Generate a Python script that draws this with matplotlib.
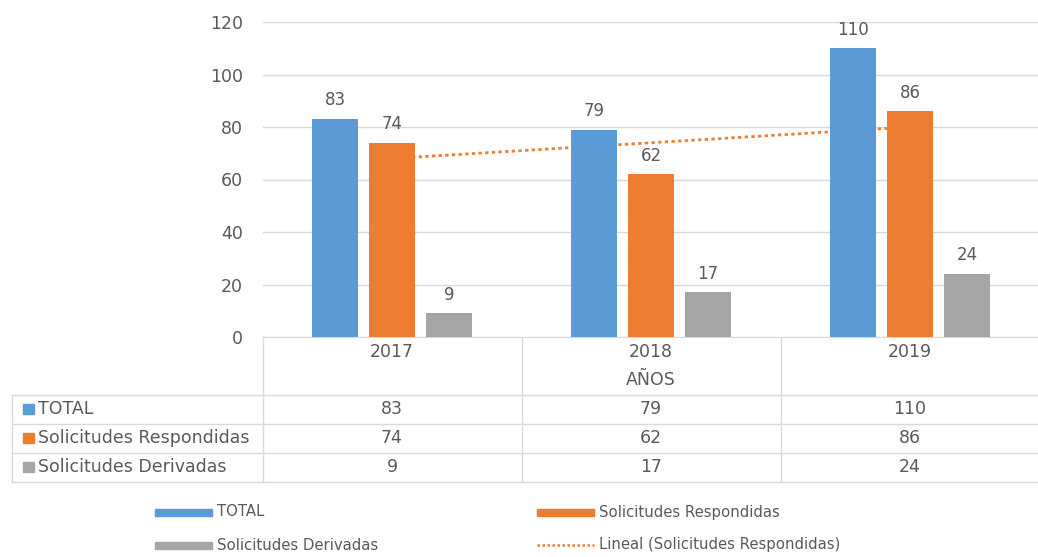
import matplotlib.pyplot as plt
import matplotlib.transforms as mtransforms
from matplotlib.lines import Line2D
from matplotlib.patches import Rectangle
import numpy as np

plt.rcParams['font.family'] = ['DejaVu Sans']

# data
years = ['2017', '2018', '2019']
total = [83, 79, 110]
respondidas = [74, 62, 86]
derivadas = [9, 17, 24]
series_names = ['TOTAL', 'Solicitudes Respondidas', 'Solicitudes Derivadas']
trend_name = 'Lineal (Solicitudes Respondidas)'
x_label = 'AÑOS'

BLUE = '#5B9BD5'
ORANGE = '#ED7D31'
GRAY = '#A5A5A5'
TXT = '#595959'
GRID = '#D9D9D9'
FS = 12.5

W, H = 1038, 557
fig = plt.figure(figsize=(W / 100, H / 100), dpi=100)

def fx(px):
    return px / W

def fy(py):
    return 1 - py / H

# plot area: y=0 at 337px, y=120 at 22px
ax = fig.add_axes([fx(262.5), fy(337), fx(777), (337 - 22) / H])

x = np.arange(len(years))
bw = 0.175
off = 0.22
series = [total, respondidas, derivadas]
colors = [BLUE, ORANGE, GRAY]
for i, (vals, c) in enumerate(zip(series, colors)):
    bars = ax.bar(x + (i - 1) * off, vals, width=bw, color=c, zorder=3)
    for b, v in zip(bars, vals):
        ax.annotate(str(v), (b.get_x() + b.get_width() / 2, v),
                    xytext=(0, 7), textcoords='offset points',
                    ha='center', va='bottom', fontsize=FS - 0.5, color=TXT)

# linear trend of the answered requests
coef = np.polyfit(x, respondidas, 1)
ax.plot(x, np.polyval(coef, x), color=ORANGE, linestyle=(0, (1.2, 1.2)),
        linewidth=2, zorder=2)

ax.set_xlim(-0.5, 2.5)
ax.set_ylim(0, 120)
ax.set_yticks(range(0, 121, 20))
ax.yaxis.grid(True, color=GRID, linewidth=1, zorder=0)
ax.set_axisbelow(True)
ax.tick_params(axis='y', length=0, pad=14, labelsize=FS, labelcolor=TXT)
ax.set_xticks([])
for s in ['top', 'right', 'left']:
    ax.spines[s].set_visible(False)
ax.spines['bottom'].set_color(GRID)

# data table under the axis
tr = mtransforms.blended_transform_factory(ax.transData, fig.transFigure)
for bx in [-0.5, 0.5, 1.5]:
    fig.add_artist(Line2D([bx, bx], [fy(337), fy(482)], color=GRID,
                          linewidth=1, transform=tr))
fig.add_artist(Line2D([fx(12), fx(12)], [fy(395), fy(482)], color=GRID,
                      linewidth=1, transform=fig.transFigure))
for ly in [395, 424, 453, 482]:
    fig.add_artist(Line2D([fx(12), 1], [fy(ly), fy(ly)], color=GRID,
                          linewidth=1, transform=fig.transFigure))

for xi, yr in zip(x, years):
    fig.text(xi, fy(352), yr, transform=tr, ha='center', va='center',
             fontsize=FS, color=TXT)
fig.text(1, fy(380), x_label, transform=tr, ha='center', va='center',
         fontsize=FS, color=TXT)

row_y = [409, 438, 467]
for name, vals, c, ry in zip(series_names, series, colors, row_y):
    fig.add_artist(Rectangle((fx(23), fy(ry + 5)), fx(11), 10 / H,
                             color=c, transform=fig.transFigure))
    fig.text(fx(38), fy(ry), name, ha='left', va='center', fontsize=FS,
             color=TXT)
    for xi, v in zip(x, vals):
        fig.text(xi, fy(ry), str(v), transform=tr, ha='center', va='center',
                 fontsize=FS, color=TXT)

# legend
legend_items = [
    (155, 512, 'bar', BLUE, series_names[0]),
    (537, 512, 'bar', ORANGE, series_names[1]),
    (155, 545, 'bar', GRAY, series_names[2]),
    (537, 545, 'line', ORANGE, trend_name),
]
for lx, ly, kind, c, label in legend_items:
    if kind == 'bar':
        fig.add_artist(Rectangle((fx(lx), fy(ly + 3.5)), fx(57), 7 / H,
                                 color=c, transform=fig.transFigure))
    else:
        fig.add_artist(Line2D([fx(lx), fx(lx + 57)], [fy(ly), fy(ly)],
                              color=c, linestyle=(0, (1, 1)), linewidth=1.8,
                              transform=fig.transFigure))
    fig.text(fx(lx + 62), fy(ly), label, ha='left', va='center',
             fontsize=10.7, color=TXT)

fig.savefig('out.png', dpi=100, facecolor='white')
